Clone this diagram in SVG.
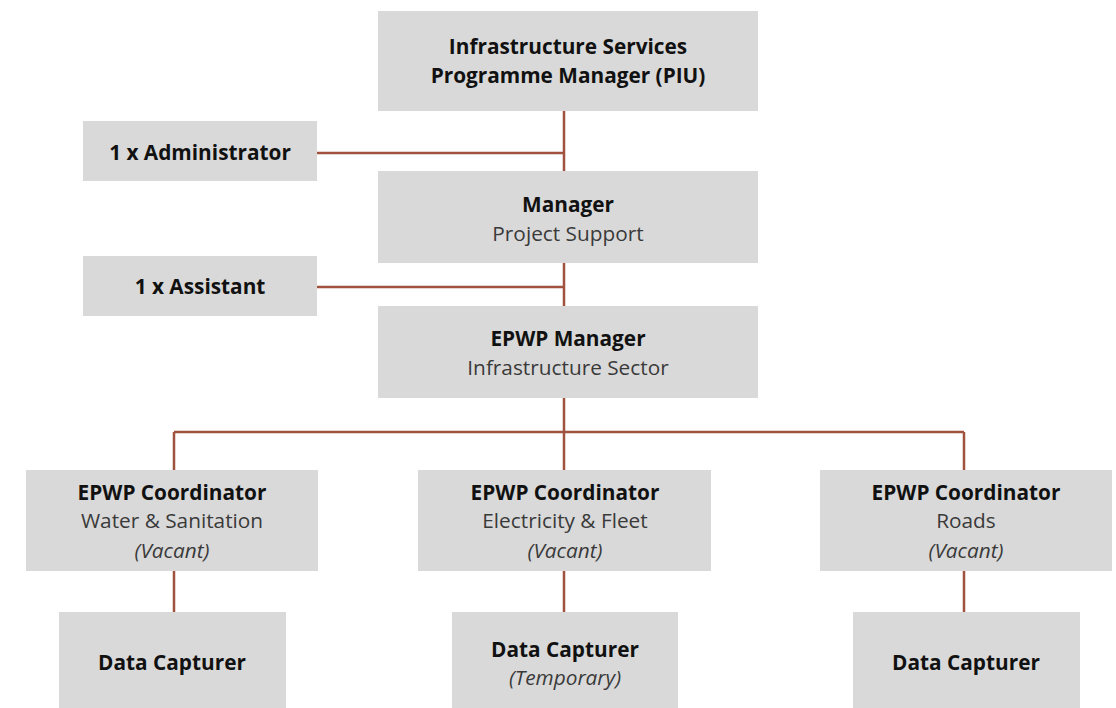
<svg xmlns="http://www.w3.org/2000/svg" width="1116" height="708" viewBox="0 0 1116 708">
<style>
.box{fill:#d9d9d9}
.t{font-family:"Open Sans","Liberation Sans",sans-serif;text-anchor:middle;font-size:20.8px}
.b{font-weight:bold;fill:#111}
.r{fill:#3a3a3a}
.i{font-style:italic;fill:#3a3a3a}
.c{stroke:#a0523f;stroke-width:2.5;fill:none}
</style>
<rect width="1116" height="708" fill="#fff"/>
<g id="connectors">
<path class="c" d="M564 111V306M317 153H564M317 287H564M564 398V470M174 432H964M174 432V470M964 432V470M174 571V612M564 571V612M964 571V612"/>
</g>
<g id="piu"><rect class="box" x="378" y="11" width="380" height="100"/><text class="t b" x="568" y="54">Infrastructure Services</text><text class="t b" x="568" y="83">Programme Manager (PIU)</text></g>
<g id="admin"><rect class="box" x="83" y="121" width="234" height="60"/><text class="t b" x="200" y="160">1 x Administrator</text></g>
<g id="manager"><rect class="box" x="378" y="171" width="380" height="92"/><text class="t b" x="568" y="212">Manager</text><text class="t r" x="568" y="241">Project Support</text></g>
<g id="assistant"><rect class="box" x="83" y="256" width="234" height="60"/><text class="t b" x="200" y="294">1 x Assistant</text></g>
<g id="epwp-manager"><rect class="box" x="378" y="306" width="380" height="92"/><text class="t b" x="568" y="346">EPWP Manager</text><text class="t r" x="568" y="375">Infrastructure Sector</text></g>
<g id="coord-water"><rect class="box" x="26" y="470" width="292" height="101"/><text class="t b" x="172" y="500">EPWP Coordinator</text><text class="t r" x="172" y="528">Water &amp; Sanitation</text><text class="t i" x="172" y="558">(Vacant)</text></g>
<g id="coord-elec"><rect class="box" x="418" y="470" width="293" height="101"/><text class="t b" x="565" y="500">EPWP Coordinator</text><text class="t r" x="565" y="528">Electricity &amp; Fleet</text><text class="t i" x="565" y="558">(Vacant)</text></g>
<g id="coord-roads"><rect class="box" x="820" y="470" width="292" height="101"/><text class="t b" x="966" y="500">EPWP Coordinator</text><text class="t r" x="966" y="528">Roads</text><text class="t i" x="966" y="558">(Vacant)</text></g>
<g id="dc-water"><rect class="box" x="59" y="612" width="227" height="96"/><text class="t b" x="172" y="670">Data Capturer</text></g>
<g id="dc-elec"><rect class="box" x="452" y="612" width="226" height="96"/><text class="t b" x="565" y="657">Data Capturer</text><text class="t i" x="565" y="685">(Temporary)</text></g>
<g id="dc-roads"><rect class="box" x="853" y="612" width="227" height="96"/><text class="t b" x="966" y="670">Data Capturer</text></g>
</svg>
